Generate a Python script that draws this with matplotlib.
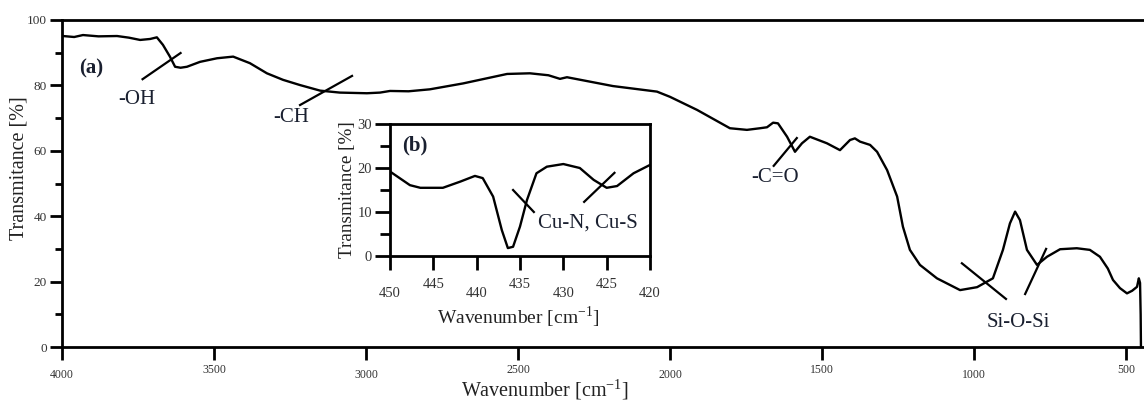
import matplotlib
matplotlib.use("Agg")
import matplotlib.pyplot as plt

plt.rcParams['font.family'] = ['Liberation Serif', 'DejaVu Serif']

# main FTIR spectrum (a)
wave = [3997, 3960, 3931, 3880, 3819, 3780, 3743, 3710, 3688, 3668, 3645, 3628,
        3610, 3589, 3546, 3490, 3437, 3382, 3326, 3273, 3217, 3151, 3086, 2997,
        2954, 2921, 2860, 2790, 2681, 2536, 2461, 2400, 2362, 2339, 2188, 2043,
        2000, 1911, 1803, 1747, 1704, 1681, 1661, 1645, 1615, 1589, 1566, 1540,
        1484, 1441, 1408, 1392, 1375, 1342, 1319, 1286, 1253, 1234, 1211, 1178,
        1122, 1046, 990, 938, 905, 882, 865, 849, 826, 793, 760, 717, 662, 619,
        586, 560, 543, 520, 497, 480, 464, 458, 454, 452, 451]
trans = [95.1, 94.8, 95.4, 95.0, 95.1, 94.6, 93.9, 94.2, 94.7, 92.4, 88.8, 85.7,
         85.4, 85.7, 87.2, 88.3, 88.8, 86.8, 83.7, 81.7, 80.1, 78.4, 77.8, 77.6,
         77.8, 78.3, 78.2, 78.8, 80.6, 83.5, 83.7, 83.1, 82.0, 82.5, 79.8, 78.1,
         76.5, 72.5, 66.9, 66.4, 66.9, 67.2, 68.6, 68.4, 64.3, 59.7, 62.3, 64.3,
         62.3, 60.2, 63.3, 63.8, 62.8, 61.8, 59.7, 54.1, 46.0, 36.8, 29.7, 25.1,
         21.0, 17.4, 18.3, 21.0, 29.7, 37.8, 41.4, 38.8, 29.7, 25.1, 27.6, 29.9,
         30.2, 29.7, 27.6, 24.0, 20.5, 18.0, 16.4, 17.2, 18.4, 21.0, 19.6, 10.0, 0.0]

# inset spectrum (b)
wave_b = [450, 447.7, 446.5, 443.9, 441.9, 440.2, 439.3, 438.1, 437.1, 436.4,
          435.8, 435.0, 434.2, 433.1, 431.9, 430.0, 428.1, 426.5, 425.0, 423.8,
          421.9, 420]
trans_b = [19.2, 16.1, 15.5, 15.5, 16.9, 18.2, 17.7, 13.5, 5.9, 1.8,
           2.1, 6.7, 12.7, 18.8, 20.3, 20.9, 20.0, 17.3, 15.5, 15.9,
           18.8, 20.7]

main_xticks = [4000, 3500, 3000, 2500, 2000, 1500, 1000, 500]
inset_xticks = [450, 445, 440, 435, 430, 425, 420]

fig = plt.figure(figsize=(11.44, 4.01), dpi=100)
W, H = 1144.0, 401.0


def box(l, t, r, b):
    return [l / W, 1 - b / H, (r - l) / W, (b - t) / H]


txt = '#1a2030'
ax = fig.add_axes(box(62, 20, 1144, 347))
ax.plot(wave, trans, color='black', lw=1.7)
ax.set_xlim(4000, 441)
ax.set_ylim(0, 100)
ax.spines['right'].set_visible(False)
for s in ['left', 'bottom', 'top']:
    ax.spines[s].set_linewidth(2)
ax.set_xticks(main_xticks)
ax.set_yticks(range(0, 101, 20))
ax.set_yticks(range(10, 100, 20), minor=True)
ax.tick_params(axis='y', which='major', length=9, width=2, labelsize=9.5, pad=2)
ax.tick_params(axis='y', which='minor', length=5, width=2)
ax.tick_params(axis='x', which='major', length=9, width=2, labelsize=8.5)
ax.tick_params(axis='both', labelcolor='#333333')
for i, t in enumerate(ax.xaxis.get_major_ticks()):
    t.set_pad(7 if i % 2 == 0 else 3)
ax.set_ylabel('Transmitance [%]', fontsize=14.5, color='#222222')
ax.yaxis.set_label_coords(-0.031, 0.547)
ax.set_xlabel('Wavenumber [cm$^{\\mathregular{-1}}$]', fontsize=14.5, color='#222222')
ax.xaxis.set_label_coords((545 - 62) / 1082, -0.092)

ax.text(3944, 85.3, '(a)', fontsize=15, fontweight='bold', color=txt, va='center')
ax.text(3753, 75.8, '-OH', fontsize=15, color=txt, ha='center', va='center')
ax.plot([3735, 3610], [81.9, 89.9], color='black', lw=1.6)
ax.text(3247, 70.3, '-CH', fontsize=15, color=txt, ha='center', va='center')
ax.plot([3217, 3046], [74.0, 82.9], color='black', lw=1.6)
ax.text(1655, 51.7, '-C=O', fontsize=15, color=txt, ha='center', va='center')
ax.plot([1659, 1583], [55.4, 63.9], color='black', lw=1.6)
ax.text(856, 7.6, 'Si-O-Si', fontsize=15, color=txt, ha='center', va='center')
ax.plot([1040, 895], [25.6, 14.7], color='black', lw=1.6)
ax.plot([832, 763], [16.2, 30.0], color='black', lw=1.6)

# inset (b)
axb = fig.add_axes(box(390, 124, 650, 256))
axb.plot(wave_b, trans_b, color='black', lw=1.7)
axb.set_xlim(450, 420)
axb.set_ylim(0, 30)
for s in axb.spines.values():
    s.set_linewidth(2)
axb.set_xticks(inset_xticks)
axb.set_yticks([0, 10, 20, 30])
axb.set_yticks([5, 15, 25], minor=True)
axb.tick_params(axis='y', which='major', length=11, width=2, labelsize=10.5, pad=2)
axb.tick_params(axis='y', which='minor', length=7, width=2)
axb.tick_params(axis='x', which='major', length=10, width=2, labelsize=10.5)
axb.tick_params(axis='both', labelcolor='#333333')
for i, t in enumerate(axb.xaxis.get_major_ticks()):
    t.set_pad(12.5 if i % 2 == 0 else 6)
axb.set_ylabel('Transmitance [%]', fontsize=13.8, color='#222222', labelpad=1)
axb.set_xlabel('Wavenumber [cm$^{\\mathregular{-1}}$]', fontsize=14, color='#222222')
axb.xaxis.set_label_coords((518 - 390) / 260, -0.37)
axb.text(448.6, 25.2, '(b)', fontsize=15, fontweight='bold', color=txt, va='center')
axb.text(427.2, 7.5, 'Cu-N, Cu-S', fontsize=15, color=txt, ha='center', va='center')
axb.plot([435.8, 433.4], [15.0, 10.0], color='black', lw=1.6)
axb.plot([427.6, 424.1], [12.3, 18.9], color='black', lw=1.6)

fig.savefig('out.png', dpi=100)
